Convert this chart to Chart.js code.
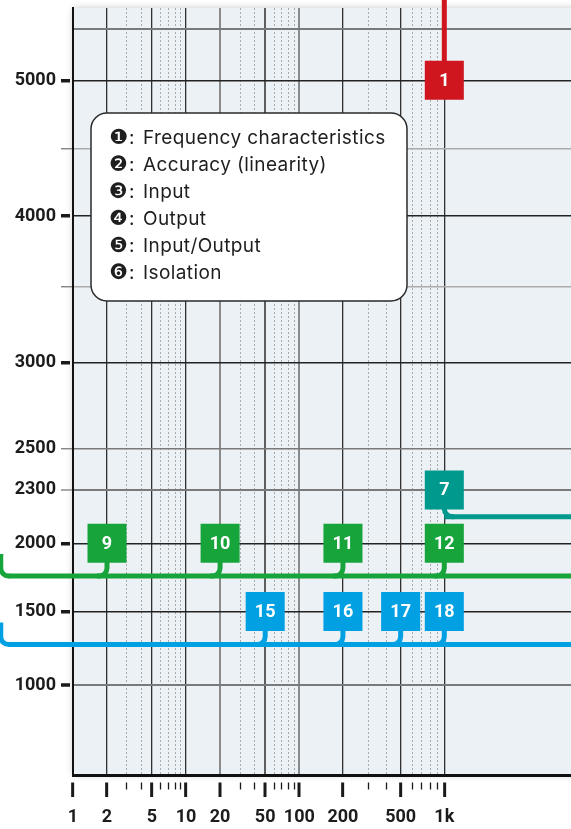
<!DOCTYPE html>
<html>
<head>
<meta charset="utf-8">
<script src="https://cdn.jsdelivr.net/npm/chart.js@4.4.1/dist/chart.umd.min.js"></script>
<style>
  html, body { margin: 0; padding: 0; background: #ffffff; }
  #wrap { width: 571px; height: 829px; }
</style>
</head>
<body>
<div id="wrap"><canvas id="chart" width="571" height="829"></canvas></div>
<script>
// ---- axis ticks ----
const freqTicks = [1, 2, 3, 4, 5, 6, 7, 8, 9, 10, 20, 30, 40, 50, 60, 70, 80, 90,
                   100, 200, 300, 400, 500, 600, 700, 800, 900, 1000];
const freqMajor = [1, 2, 5, 10, 20, 50, 100, 200, 500, 1000];
const freqLabels = ['1', '2', '5', '10', '20', '50', '100', '200', '500', '1k'];

const voltTicks = [1000, 1500, 2000, 2300, 2500, 3000, 3500, 4000, 4500, 5000, 5375];
const voltLabelled = [1000, 1500, 2000, 2300, 2500, 3000, 4000, 5000];
const voltMajor = [1000, 1500, 2000, 3000, 4000, 5000];

// ---- numbered markers (frequency, voltage) ----
const redIds = ['1'];
const redFreq = [1000];
const redVolt = [5000];

const tealIds = ['7'];
const tealFreq = [1000];
const tealVolt = [2300];

const greenIds = ['9', '10', '11', '12'];
const greenFreq = [2, 20, 200, 1000];
const greenVolt = [2000, 2000, 2000, 2000];

const blueIds = ['15', '16', '17', '18'];
const blueFreq = [50, 200, 500, 1000];
const blueVolt = [1500, 1500, 1500, 1500];

// ---- leader lines ----
const redLineFreq = [1000, 1000];
const redLineVolt = [5000, 5700];
const tealLineFreq = [1000, 7500];
const tealLineVolt = [2150, 2150];
const greenLineFreq = [0.27, 7500];
const greenLineVolt = [1760, 1760];
const blueLineFreq = [0.27, 7500];
const blueLineVolt = [1275, 1275];

// ---- key ----
const keyBullets = ['\u2776', '\u2777', '\u2778', '\u2779', '\u277A', '\u277B'];
const keyTexts = ['Frequency characteristics', 'Accuracy (linearity)', 'Input',
                  'Output', 'Input/Output', 'Isolation'];

const COLORS = { red: '#CF161F', teal: '#00998D', green: '#17A43B', blue: '#00A0E3' };

// The axes are drawn with uneven spacing: each axis is split into segments,
// and a value is placed by interpolating inside its segment (log for frequency).
const AXIS_STOPS = {
  x: { log: true,  stops: [[1, 0], [10, 0.2269], [100, 0.4544], [1000, 0.7456], [7500, 1]] },
  y: { log: false, stops: [[400, 0], [1000, 0.1173], [1500, 0.2132], [2000, 0.3021],
                           [2300, 0.3716], [2500, 0.4260], [3000, 0.5376], [3500, 0.6362],
                           [4000, 0.7288], [4500, 0.8171], [5000, 0.9057], [5530, 1]] }
};

function segmentOf(stops, test) {
  let i = 0;
  while (i < stops.length - 2 && test(stops[i + 1])) i++;
  return i;
}
function toDecimal(v, cfg) {
  const s = cfg.stops, f = cfg.log ? Math.log10 : (t => t);
  const i = segmentOf(s, st => v > st[0]);
  const a = s[i], b = s[i + 1];
  return a[1] + (f(v) - f(a[0])) / (f(b[0]) - f(a[0])) * (b[1] - a[1]);
}
function fromDecimal(d, cfg) {
  const s = cfg.stops;
  const i = segmentOf(s, st => d > st[1]);
  const a = s[i], b = s[i + 1];
  const t = (d - a[1]) / (b[1] - a[1]);
  if (cfg.log) return Math.pow(10, Math.log10(a[0]) + t * (Math.log10(b[0]) - Math.log10(a[0])));
  return a[0] + t * (b[0] - a[0]);
}

class SegmentedScale extends Chart.LinearScale {
  static id = 'segmented';
  static defaults = Chart.LinearScale.defaults;
  determineDataLimits() {
    const s = AXIS_STOPS[this.axis].stops;
    this.min = s[0][0];
    this.max = s[s.length - 1][0];
  }
  buildTicks() {
    this.start = this.min;
    this.end = this.max;
    return (this.axis === 'x' ? freqTicks : voltTicks).map(value => ({ value }));
  }
  getPixelForValue(value) {
    return this.getPixelForDecimal(toDecimal(value, AXIS_STOPS[this.axis]));
  }
  getValueForPixel(pixel) {
    return fromDecimal(this.getDecimalForPixel(pixel), AXIS_STOPS[this.axis]);
  }
}
Chart.register(SegmentedScale);

const pts = (xs, ys) => xs.map((x, i) => ({ x, y: ys[i] }));

function markerSet(ids, xs, ys, color, level, turn) {
  return {
    data: pts(xs, ys), ids, leaderLevel: level, leaderTurn: turn,
    backgroundColor: color, borderWidth: 0,
    pointStyle: 'rect', pointRadius: 27.6, pointHoverRadius: 27.6,
    clip: false, order: 0
  };
}
function leaderSet(xs, ys, color, roundStart) {
  return {
    data: pts(xs, ys), showLine: true, roundStart,
    borderColor: color, borderWidth: 5, borderCapStyle: 'butt',
    pointRadius: 0, clip: false, order: 1
  };
}

// plot area tint with its soft drop shadow
const plotBackdrop = {
  id: 'plotBackdrop',
  beforeDraw(chart) {
    const { ctx, chartArea: a } = chart;
    ctx.save();
    ctx.shadowColor = 'rgba(0,0,0,0.22)';
    ctx.shadowBlur = 7;
    ctx.fillStyle = '#ECF1F5';
    ctx.fillRect(a.left, a.top, a.right - a.left + 30, a.bottom - a.top);
    ctx.restore();
  }
};

// rounded connectors from each marker down to its horizontal line
const connectors = {
  id: 'connectors',
  beforeDatasetsDraw(chart) {
    const { ctx } = chart;
    const yScale = chart.scales.y;
    const r = 8;
    chart.data.datasets.forEach((ds, i) => {
      const meta = chart.getDatasetMeta(i);
      ctx.save();
      ctx.lineWidth = 5;
      ctx.lineCap = 'butt';
      if (ds.leaderLevel !== undefined) {
        const ly = yScale.getPixelForValue(ds.leaderLevel);
        const dir = ds.leaderTurn === 'right' ? 1 : -1;
        ctx.strokeStyle = ds.backgroundColor;
        meta.data.forEach(p => {
          ctx.beginPath();
          ctx.moveTo(p.x, p.y);
          ctx.lineTo(p.x, ly - r);
          ctx.arcTo(p.x, ly, p.x + dir * r, ly, r);
          ctx.lineTo(p.x + dir * (r + 2), ly);
          ctx.stroke();
        });
      }
      if (ds.roundStart && meta.data.length) {
        const p = meta.data[0];
        ctx.strokeStyle = ds.borderColor;
        ctx.beginPath();
        ctx.moveTo(p.x + 1, p.y);
        ctx.arcTo(p.x - r, p.y, p.x - r, p.y - r, r);
        ctx.lineTo(p.x - r, p.y - r - 14);
        ctx.stroke();
      }
      ctx.restore();
    });
  }
};

// marker numbers
const markerNumbers = {
  id: 'markerNumbers',
  afterDatasetsDraw(chart) {
    const { ctx } = chart;
    ctx.save();
    ctx.fillStyle = '#ffffff';
    ctx.font = '700 18px Roboto, "DejaVu Sans", sans-serif';
    ctx.textAlign = 'center';
    ctx.textBaseline = 'middle';
    chart.data.datasets.forEach((ds, i) => {
      if (!ds.ids) return;
      chart.getDatasetMeta(i).data.forEach((p, j) => ctx.fillText(ds.ids[j], p.x, p.y + 1));
    });
    ctx.restore();
  }
};

// key box listing the numbered categories
const keyBox = {
  id: 'keyBox',
  afterDatasetsDraw(chart, args, opts) {
    const { ctx, chartArea: a } = chart;
    const x = a.left + opts.dx, y = a.top + opts.dy, w = opts.width, h = opts.height;
    ctx.save();
    ctx.beginPath();
    ctx.roundRect(x, y, w, h, 16);
    ctx.fillStyle = '#ffffff';
    ctx.fill();
    ctx.lineWidth = 1.5;
    ctx.strokeStyle = '#2a2a2a';
    ctx.stroke();
    ctx.fillStyle = '#1e1e1e';
    ctx.textBaseline = 'middle';
    keyTexts.forEach((t, i) => {
      const ty = y + 25 + i * 27;
      ctx.letterSpacing = '0px';
      ctx.font = '21px "DejaVu Sans", sans-serif';
      ctx.fillText(keyBullets[i], x + 18, ty + 1);
      ctx.font = '19px Inter, Roboto, "DejaVu Sans", sans-serif';
      ctx.fillText(':', x + 38, ty);
      ctx.letterSpacing = '0.4px';
      ctx.fillText(t, x + 52, ty);
    });
    ctx.restore();
  }
};

const inList = (list, v) => list.indexOf(v) !== -1;
const axisFont = { family: 'Roboto', weight: 'bold', size: 18 };

function xGridColor(v) {
  if (v === 1) return 'rgba(0,0,0,0)';
  if (v === 20 || v === 100) return '#8a8a8a';
  if (v === 50) return '#5e5e5e';
  if (inList(freqMajor, v)) return '#303030';
  return '#a9a9a9';
}
function xGridWidth(v) {
  if (v === 20 || v === 50 || v === 100) return 2;
  if (inList(freqMajor, v)) return 1.3;
  return 1;
}
function yGridColor(v) {
  if (inList([1000, 2300, 2500, 5375], v)) return '#7a7a7a';
  if (v === 3500 || v === 4500) return '#ababab';
  return '#222222';
}
function yGridWidth(v) {
  if (v === 1000 || v === 2300 || v === 5375) return 2;
  return 1.5;
}

new Chart(document.getElementById('chart'), {
  type: 'scatter',
  data: {
    datasets: [
      markerSet(redIds, redFreq, redVolt, COLORS.red),
      markerSet(tealIds, tealFreq, tealVolt, COLORS.teal, tealLineVolt[0], 'right'),
      markerSet(greenIds, greenFreq, greenVolt, COLORS.green, greenLineVolt[0], 'left'),
      markerSet(blueIds, blueFreq, blueVolt, COLORS.blue, blueLineVolt[0], 'left'),
      leaderSet(redLineFreq, redLineVolt, COLORS.red, false),
      leaderSet(tealLineFreq, tealLineVolt, COLORS.teal, false),
      leaderSet(greenLineFreq, greenLineVolt, COLORS.green, true),
      leaderSet(blueLineFreq, blueLineVolt, COLORS.blue, true)
    ]
  },
  options: {
    responsive: false,
    animation: false,
    events: [],
    devicePixelRatio: 1,
    layout: { autoPadding: false, padding: { top: 8, right: 0, bottom: 0, left: 0 } },
    plugins: {
      legend: { display: false },
      tooltip: { enabled: false },
      keyBox: { dx: 18, dy: 105, width: 316, height: 188 }
    },
    scales: {
      x: {
        type: 'segmented',
        position: 'bottom',
        afterFit: s => { s.height = 54; s.paddingLeft = 0; s.paddingRight = 0; },
        border: { display: true, color: '#111111', width: 3,
                  dash: c => (c.tick && !inList(freqMajor, c.tick.value)) ? [2, 2] : [] },
        grid: {
          drawOnChartArea: true,
          color: c => c.tick ? xGridColor(c.tick.value) : '#333',
          lineWidth: c => c.tick ? xGridWidth(c.tick.value) : 1,
          tickLength: 22,
          tickColor: '#1a1a1a',
          tickWidth: c => (c.tick && inList(freqMajor, c.tick.value)) ? 3 : 1.3,
          tickBorderDash: c => (c.tick && inList(freqMajor, c.tick.value)) ? [0, 5.5, 15, 100] : [0, 5.5, 7, 100]
        },
        ticks: {
          autoSkip: false, maxRotation: 0, minRotation: 0, padding: 10,
          color: '#1c1c1c', font: axisFont,
          callback: v => { const k = freqMajor.indexOf(v); return k === -1 ? '' : freqLabels[k]; }
        }
      },
      y: {
        type: 'segmented',
        position: 'left',
        afterFit: s => { s.width = 73; s.paddingTop = 0; s.paddingBottom = 0; },
        border: { display: true, color: '#111111', width: 2 },
        grid: {
          color: c => c.tick ? yGridColor(c.tick.value) : '#222',
          lineWidth: c => c.tick ? yGridWidth(c.tick.value) : 1.5,
          tickLength: 12,
          tickColor: c => {
            if (!c.tick) return '#1a1a1a';
            if (c.tick.value === 5375) return 'rgba(0,0,0,0)';
            return inList(voltMajor, c.tick.value) ? '#1a1a1a' : '#7a7a7a';
          },
          tickWidth: c => (c.tick && inList(voltMajor, c.tick.value)) ? 3.5 : 1.3,
          tickBorderDash: c => (c.tick && inList(voltMajor, c.tick.value)) ? [9, 100] : [12, 100]
        },
        ticks: {
          autoSkip: false, padding: 5, color: '#1c1c1c', font: axisFont,
          callback: v => inList(voltLabelled, v) ? String(v) : ''
        }
      }
    }
  },
  plugins: [plotBackdrop, connectors, markerNumbers, keyBox]
});
</script>
</body>
</html>
